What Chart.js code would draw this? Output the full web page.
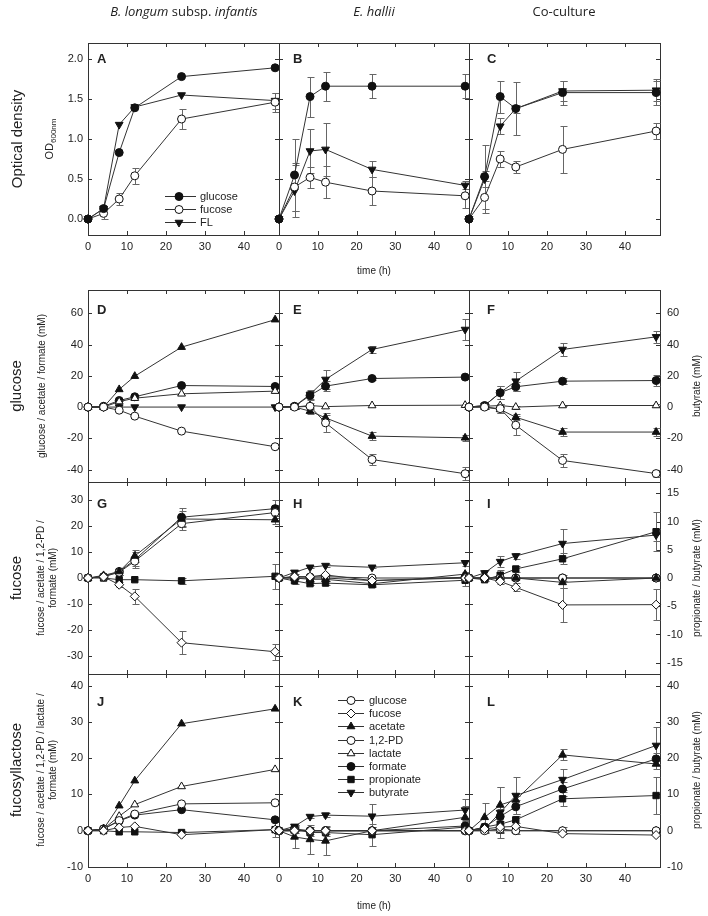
<!DOCTYPE html>
<html>
<head>
<meta charset="utf-8">
<script src="https://cdn.jsdelivr.net/npm/chart.js@4.4.0/dist/chart.umd.min.js"></script>
<style>
body { margin: 0; background: #fff; }
#page { position: relative; width: 708px; height: 916px; overflow: hidden; font-family: "Liberation Sans", Arial, sans-serif; color: #222; }
#page canvas { position: absolute; left: 0; top: 0; }
.t { position: absolute; white-space: nowrap; transform: translate(-50%, -50%); line-height: 1; }
.r { transform: translate(-50%, -50%) rotate(-90deg); }
.hd { font-family: "Open Sans", sans-serif; font-size: 13px; }
.big { font-size: 15px; }
.sm { font-size: 10px; }
.od { font-size: 11px; }
.lt { position: absolute; font-weight: bold; font-size: 13px; transform: translate(0, -50%); line-height: 1; }
sub { font-size: 8px; }
</style>
</head>
<body>
<div id="page"></div>
<script>
const hours = [0, 4, 8, 12, 24, 48];
const timeTicks = [0, 10, 20, 30, 40];
const odTicks = [0, 0.5, 1, 1.5, 2];
const glcTicks = [-40, -20, 0, 20, 40, 60];
const fucTicks = [-30, -20, -10, 0, 10, 20, 30];
const fucTicksRight = [-15, -10, -5, 0, 5, 10, 15];
const flTicks = [-10, 0, 10, 20, 30, 40];

// optical density
const odInfGlc = [0, 0.13, 0.83, 1.39, 1.78, 1.89];
const odInfFuc = [0, 0.07, 0.25, 0.54, 1.25, 1.46];
const odInfFucErr = [0, 0.07, 0.07, 0.1, 0.12, 0.12];
const odInfFL = [0, 0.13, 1.18, 1.40, 1.55, 1.48];
const odInfFLErr = [0, 0, 0, 0, 0, 0.1];
const odHalGlc = [0, 0.55, 1.53, 1.66, 1.66, 1.66];
const odHalGlcErr = [0, 0.45, 0.25, 0.18, 0.15, 0.15];
const odHalFuc = [0, 0.40, 0.52, 0.46, 0.35, 0.29];
const odHalFucErr = [0, 0.3, 0.13, 0.2, 0.18, 0.15];
const odHalFL = [0, 0.35, 0.85, 0.87, 0.62, 0.42];
const odHalFLErr = [0, 0.32, 0.27, 0.33, 0.1, 0.05];
const odCoGlc = [0, 0.53, 1.53, 1.38, 1.58, 1.58];
const odCoGlcErr = [0, 0.4, 0.2, 0.33, 0.15, 0.15];
const odCoFuc = [0, 0.27, 0.75, 0.65, 0.87, 1.10];
const odCoFucErr = [0, 0.2, 0.1, 0.07, 0.29, 0.1];
const odCoFL = [0, 0.50, 1.16, 1.38, 1.60, 1.61];
const odCoFLErr = [0, 0.1, 0.1, 0.05, 0.12, 0.14];

// glucose medium (mM)
const dGlucose = [0, 0, -2, -5.8, -15.4, -25.4];
const dAcetate = [0, 0, 11.3, 19.8, 38.4, 56];
const dLactate = [0, 0, 3.5, 5.7, 8.5, 10.2];
const dFormate = [0, 0.5, 4.2, 6.6, 13.8, 13.2];
const dButyrate = [0, 0, 0, 0, 0, 0];
const eGlucose = [0, 0, 0.5, -10.1, -33.6, -42.7];
const eGlucoseErr = [0, 1, 2, 6, 3.5, 4];
const eAcetate = [0, 0, -2.6, -6.9, -18.6, -19.7];
const eAcetateErr = [0, 1, 2, 2, 2.5, 2];
const eLactate = [0, 0, 1, 0.3, 1, 1.2];
const eFormate = [0, 0.5, 7.4, 13.4, 18.3, 19.2];
const eFormateErr = [0, 2, 3, 3, 1, 1];
const eButyrate = [0, 0.5, 8.1, 17.7, 36.9, 49.7];
const eButyrateErr = [0, 2, 3, 6, 2.5, 7];
const fGlucose = [0, 0, -1, -11.6, -34.2, -42.6];
const fGlucoseErr = [0, 1, 3, 6, 4, 2];
const fAcetate = [0, 0, -1.5, -6.5, -16, -16];
const fAcetateErr = [0, 1, 2, 2, 2.5, 2.5];
const fLactate = [0, 0.5, 1, 0, 1, 1];
const fLactateErr = [0, 1, 1, 1, 0.5, 1];
const fFormate = [0, 1, 9.2, 13, 16.6, 17];
const fFormateErr = [0, 1, 4, 3, 2, 3.5];
const fButyrate = [0, 1, 9.2, 16.6, 36.9, 45];
const fButyrateErr = [0, 1, 4, 6, 4, 4];

// fucose medium (mM)
const gFucose = [0, 0.5, -2.6, -7.1, -25, -28.5];
const gFucoseErr = [0, 0.5, 1, 3, 4.5, 3];
const gAcetate = [0, 1, 2.5, 8.5, 22.8, 22.5];
const gAcetateErr = [0, 0.5, 1.5, 2.5, 3, 1.5];
const gPd = [0, 0.5, 2.2, 6.5, 21, 25.3];
const gPdErr = [0, 0.5, 1, 2, 2.5, 3];
const gFormate = [0, 0.5, 2.5, 7, 23.5, 26.8];
const gFormateErr = [0, 1, 1.5, 3, 3.5, 3.5];
const gPropionate = [0, 0, -0.3, -0.3, -0.5, 0.3];
const gPropionateErr = [0, 0, 0, 0, 0.5, 2.2];
const hFucose = [0, 0.5, 0.5, 1.2, -1, 0];
const hAcetate = [0, 0, -0.5, -0.5, -2.2, 1.5];
const hAcetateErr = [0, 0.5, 0.5, 0.5, 1, 1];
const hPd = [0, 0.5, 0.4, 0.5, 0, 0];
const hFormate = [0, 0, 0, 0, -1, 0.3];
const hPropionate = [0, -0.5, -1, -0.9, -1.2, -0.4];
const hPropionateErr = [0, 0.6, 0.3, 0.3, 0.4, 1];
const hButyrate = [0, 1, 1.9, 2.2, 1.9, 2.7];
const hButyrateErr = [0, 0.3, 0.2, 0.2, 0.2, 0.5];
const iFucose = [0, 0, -1.3, -3.6, -10.4, -10.3];
const iFucoseErr = [0, 0.5, 1, 1.5, 6.5, 6];
const iAcetate = [0, 0, 0, 0, -1.7, 0];
const iAcetateErr = [0, 0, 0, 0, 2, 0];
const iPd = [0, 0, 0, 0, 0, 0];
const iPdErr = [0, 0, 0.5, 0.5, 1, 1];
const iFormate = [0, 0, 0, 0, 0, 0];
const iPropionate = [0, -0.3, 0.5, 1.6, 3.4, 8.2];
const iPropionateErr = [0, 0.3, 1, 0.5, 1, 3.5];
const iButyrate = [0, 0.9, 2.9, 3.9, 6.1, 7.6];
const iButyrateErr = [0, 0.5, 1, 0.5, 2.5, 1];

// fucosyllactose medium (mM)
const jFucose = [0, 0, 0.9, 1.2, -1.1, 0.3];
const jAcetate = [0, 0.5, 6.9, 13.8, 29.5, 33.6];
const jPd = [0, 0.5, 2.8, 4.6, 7.4, 7.7];
const jLactate = [0, 0.5, 4, 7.2, 12.2, 16.9];
const jFormate = [0, 0.5, 2.7, 4.3, 5.8, 3.0];
const jPropionate = [0, 0, -0.3, -0.3, -0.5, 0.3];
const jPropionateErr = [0, 0, 0, 0, 0.5, 2];
const kFucose = [0, 0, 0, 0, 0, 0];
const kAcetate = [0, -1.7, -2.4, -2.8, 0, 3.7];
const kAcetateErr = [0, 3, 4, 4, 1, 3];
const kPd = [0, 0, 0, 0, 0, 0];
const kLactate = [0, 0, 0, 0, 0, 0];
const kFormate = [0, 0.5, 0, 0, 0, 1.3];
const kFormateErr = [0, 0.5, 1, 1, 1, 1];
const kPropionate = [0, 0.5, -0.5, -0.5, -1.1, 1];
const kPropionateErr = [0, 1, 1, 1, 3, 2];
const kButyrate = [0, 1.2, 3.9, 4.3, 4.0, 5.7];
const kButyrateErr = [0, 0.5, 0.5, 0.5, 3.5, 3];
const lFucose = [0, 0.5, 1, 1.2, -0.8, -1.2];
const lAcetate = [0, 3.7, 7.1, 8.5, 20.9, 18.4];
const lAcetateErr = [0, 4, 5, 1, 1.5, 1.5];
const lPd = [0, 0, 0.5, 0, 0, 0];
const lPdErr = [0, 0, 1, 1, 1, 0.5];
const lLactate = [0, 0, 0, 0, 0, 0];
const lFormate = [0, 1, 3.9, 6.6, 11.5, 19.8];
const lFormateErr = [0, 0.5, 2, 2, 2, 1.5];
const lPropionate = [0, 1, 1.8, 3, 8.8, 9.7];
const lPropionateErr = [0, 0.5, 1, 1, 2, 5];
const lButyrate = [0, 0.5, 5, 9.7, 14.1, 23.5];
const lButyrateErr = [0, 1, 7, 5, 3, 5];

const odLegend = ['odGlucose', 'odFucose', 'FL'];
const odLegendText = ['glucose', 'fucose', 'FL'];
const metLegend = ['glucose', 'fucose', 'acetate', 'pd', 'lactate', 'formate', 'propionate', 'butyrate'];
const metLegendText = ['glucose', 'fucose', 'acetate', '1,2-PD', 'lactate', 'formate', 'propionate', 'butyrate'];

const STYLE = {
    odGlucose: { shape: 'circle', fill: '#111', r: 4 },
    odFucose: { shape: 'circle', fill: '#fff', r: 4 },
    FL: { shape: 'triangle', rot: 180, fill: '#111', r: 4.5 },
    glucose: { shape: 'circle', fill: '#fff', r: 4 },
    fucose: { shape: 'rectRot', fill: '#fff', r: 4.5 },
    acetate: { shape: 'triangle', fill: '#111', r: 4.5 },
    pd: { shape: 'circle', fill: '#fff', r: 4 },
    lactate: { shape: 'triangle', fill: '#fff', r: 4.5 },
    formate: { shape: 'circle', fill: '#111', r: 4 },
    propionate: { shape: 'rect', fill: '#111', r: 4.5 },
    butyrate: { shape: 'triangle', rot: 180, fill: '#111', r: 4.5 }
};
const RIGHT_KINDS = ['propionate', 'butyrate'];

// plot frame geometry
const COLS = [88, 279, 469, 660];
const ROWS = [[43, 235], [290, 482], [482, 674], [674, 867]];
const YW = 40, XH = 30;
const FONT = "'Liberation Sans', Arial, sans-serif";

const ROW_AXES = [
    { min: -0.2, max: 2.2, ticks: odTicks, min2: -0.2, max2: 2.2, ticks2: odTicks, fmt: v => v.toFixed(1) },
    { min: -48, max: 75, ticks: glcTicks, min2: -48, max2: 75, ticks2: glcTicks },
    { min: -37.1, max: 37.1, ticks: fucTicks, min2: -17, max2: 17, ticks2: fucTicksRight },
    { min: -10, max: 43.2, ticks: flTicks, min2: -10, max2: 43.2, ticks2: flTicks }
];

const panels = [
    { row: 0, col: 0, legend: { kinds: odLegend, text: odLegendText, x0: 165, x1: 196, xm: 179, xt: 200, y0: 196, dy: 12.8 }, series: [
        { kind: 'odGlucose', values: odInfGlc },
        { kind: 'odFucose', values: odInfFuc, err: odInfFucErr },
        { kind: 'FL', values: odInfFL, err: odInfFLErr }] },
    { row: 0, col: 1, series: [
        { kind: 'odGlucose', values: odHalGlc, err: odHalGlcErr },
        { kind: 'odFucose', values: odHalFuc, err: odHalFucErr },
        { kind: 'FL', values: odHalFL, err: odHalFLErr }] },
    { row: 0, col: 2, series: [
        { kind: 'odGlucose', values: odCoGlc, err: odCoGlcErr },
        { kind: 'odFucose', values: odCoFuc, err: odCoFucErr },
        { kind: 'FL', values: odCoFL, err: odCoFLErr }] },
    { row: 1, col: 0, series: [
        { kind: 'glucose', values: dGlucose },
        { kind: 'acetate', values: dAcetate },
        { kind: 'lactate', values: dLactate },
        { kind: 'formate', values: dFormate },
        { kind: 'butyrate', values: dButyrate }] },
    { row: 1, col: 1, series: [
        { kind: 'glucose', values: eGlucose, err: eGlucoseErr },
        { kind: 'acetate', values: eAcetate, err: eAcetateErr },
        { kind: 'lactate', values: eLactate },
        { kind: 'formate', values: eFormate, err: eFormateErr },
        { kind: 'butyrate', values: eButyrate, err: eButyrateErr }] },
    { row: 1, col: 2, series: [
        { kind: 'glucose', values: fGlucose, err: fGlucoseErr },
        { kind: 'acetate', values: fAcetate, err: fAcetateErr },
        { kind: 'lactate', values: fLactate, err: fLactateErr },
        { kind: 'formate', values: fFormate, err: fFormateErr },
        { kind: 'butyrate', values: fButyrate, err: fButyrateErr }] },
    { row: 2, col: 0, series: [
        { kind: 'fucose', values: gFucose, err: gFucoseErr },
        { kind: 'acetate', values: gAcetate, err: gAcetateErr },
        { kind: 'pd', values: gPd, err: gPdErr },
        { kind: 'formate', values: gFormate, err: gFormateErr },
        { kind: 'propionate', values: gPropionate, err: gPropionateErr }] },
    { row: 2, col: 1, series: [
        { kind: 'fucose', values: hFucose },
        { kind: 'acetate', values: hAcetate, err: hAcetateErr },
        { kind: 'pd', values: hPd },
        { kind: 'formate', values: hFormate },
        { kind: 'propionate', values: hPropionate, err: hPropionateErr },
        { kind: 'butyrate', values: hButyrate, err: hButyrateErr }] },
    { row: 2, col: 2, series: [
        { kind: 'fucose', values: iFucose, err: iFucoseErr },
        { kind: 'acetate', values: iAcetate, err: iAcetateErr },
        { kind: 'pd', values: iPd, err: iPdErr },
        { kind: 'formate', values: iFormate },
        { kind: 'propionate', values: iPropionate, err: iPropionateErr },
        { kind: 'butyrate', values: iButyrate, err: iButyrateErr }] },
    { row: 3, col: 0, series: [
        { kind: 'fucose', values: jFucose },
        { kind: 'acetate', values: jAcetate },
        { kind: 'pd', values: jPd },
        { kind: 'lactate', values: jLactate },
        { kind: 'formate', values: jFormate },
        { kind: 'propionate', values: jPropionate, err: jPropionateErr }] },
    { row: 3, col: 1, legend: { kinds: metLegend, text: metLegendText, x0: 338, x1: 364, xm: 351, xt: 369, y0: 700, dy: 13.2 }, series: [
        { kind: 'fucose', values: kFucose },
        { kind: 'acetate', values: kAcetate, err: kAcetateErr },
        { kind: 'pd', values: kPd },
        { kind: 'lactate', values: kLactate },
        { kind: 'formate', values: kFormate, err: kFormateErr },
        { kind: 'propionate', values: kPropionate, err: kPropionateErr },
        { kind: 'butyrate', values: kButyrate, err: kButyrateErr }] },
    { row: 3, col: 2, series: [
        { kind: 'fucose', values: lFucose },
        { kind: 'acetate', values: lAcetate, err: lAcetateErr },
        { kind: 'pd', values: lPd, err: lPdErr },
        { kind: 'lactate', values: lLactate },
        { kind: 'formate', values: lFormate, err: lFormateErr },
        { kind: 'propionate', values: lPropionate, err: lPropionateErr },
        { kind: 'butyrate', values: lButyrate, err: lButyrateErr }] }
];

const page = document.getElementById('page');

function markerPoint(ctx, kind, x, y) {
    const st = STYLE[kind];
    ctx.fillStyle = st.fill;
    ctx.strokeStyle = '#111';
    ctx.lineWidth = 1;
    Chart.helpers.drawPoint(ctx, { pointStyle: st.shape, rotation: st.rot || 0, radius: st.r, borderWidth: 1 }, x, y);
}

function buildPanel(p) {
    const { row, col } = p;
    const ax = ROW_AXES[row];
    const rightLabels = col === 2 && row > 0;
    const y2W = rightLabels ? 40 : 0;
    const cv = document.createElement('canvas');
    cv.width = 708;
    cv.height = 916;
    page.appendChild(cv);

    const datasets = p.series.map(s => {
        const st = STYLE[s.kind];
        return {
            label: s.kind,
            err: s.err || null,
            data: hours.map((h, i) => ({ x: h, y: s.values[i] })),
            yAxisID: RIGHT_KINDS.includes(s.kind) ? 'y2' : 'y',
            borderColor: '#333',
            borderWidth: 1,
            tension: 0,
            clip: false,
            pointStyle: st.shape,
            pointRotation: st.rot || 0,
            pointRadius: st.r,
            pointBackgroundColor: st.fill,
            pointBorderColor: '#111',
            pointBorderWidth: 1
        };
    });

    const frame = {
        id: 'frame',
        beforeDatasetsDraw(chart) {
            const { ctx, chartArea: a, scales } = chart;
            ctx.save();
            ctx.strokeStyle = '#333';
            ctx.lineWidth = 1;
            ctx.strokeRect(a.left + 0.5, a.top + 0.5, a.right - a.left, a.bottom - a.top);
            ctx.beginPath();
            scales.x.ticks.forEach(t => {
                const x = Math.round(scales.x.getPixelForValue(t.value)) + 0.5;
                ctx.moveTo(x, a.top); ctx.lineTo(x, a.top + 4);
                ctx.moveTo(x, a.bottom); ctx.lineTo(x, a.bottom - 4);
            });
            scales.y.ticks.forEach(t => {
                const y = Math.round(scales.y.getPixelForValue(t.value)) + 0.5;
                ctx.moveTo(a.left, y); ctx.lineTo(a.left + 4, y);
            });
            const rs = rightLabels ? scales.y2 : scales.y;
            rs.ticks.forEach(t => {
                const y = Math.round(rs.getPixelForValue(t.value)) + 0.5;
                ctx.moveTo(a.right, y); ctx.lineTo(a.right - 4, y);
            });
            ctx.stroke();

            // error bars
            ctx.strokeStyle = '#666';
            chart.data.datasets.forEach(ds => {
                if (!ds.err) return;
                const ys = scales[ds.yAxisID];
                ctx.beginPath();
                ds.data.forEach((pt, i) => {
                    const e = ds.err[i];
                    if (!e) return;
                    const x = Math.round(scales.x.getPixelForValue(pt.x)) + 0.5;
                    const y1 = Math.round(ys.getPixelForValue(pt.y - e)) + 0.5;
                    const y2 = Math.round(ys.getPixelForValue(pt.y + e)) + 0.5;
                    ctx.moveTo(x, y1); ctx.lineTo(x, y2);
                    ctx.moveTo(x - 3, y1); ctx.lineTo(x + 4, y1);
                    ctx.moveTo(x - 3, y2); ctx.lineTo(x + 4, y2);
                });
                ctx.stroke();
            });
            ctx.restore();
        },
        afterDatasetsDraw(chart) {
            const lg = p.legend;
            if (!lg) return;
            const ctx = chart.ctx;
            ctx.save();
            ctx.font = '11px ' + FONT;
            ctx.textBaseline = 'middle';
            lg.kinds.forEach((k, i) => {
                const y = Math.round(lg.y0 + i * lg.dy) + 0.5;
                ctx.strokeStyle = '#333';
                ctx.lineWidth = 1;
                ctx.beginPath();
                ctx.moveTo(lg.x0, y); ctx.lineTo(lg.x1, y);
                ctx.stroke();
                markerPoint(ctx, k, lg.xm, y);
                ctx.fillStyle = '#222';
                ctx.fillText(lg.text[i], lg.xt, y);
            });
            ctx.restore();
        }
    };

    const tickFont = { family: FONT, size: 11 };
    new Chart(cv, {
        type: 'line',
        data: { datasets },
        options: {
            responsive: false,
            animation: false,
            devicePixelRatio: 1,
            layout: {
                padding: {
                    left: COLS[col] - YW,
                    right: 708 - COLS[col + 1] - y2W,
                    top: ROWS[row][0],
                    bottom: 916 - ROWS[row][1] - XH
                }
            },
            plugins: { legend: { display: false }, tooltip: { enabled: false } },
            scales: {
                x: {
                    type: 'linear', min: 0, max: 49,
                    afterBuildTicks: s => { s.ticks = timeTicks.map(v => ({ value: v })); },
                    afterFit: s => { s.height = XH; },
                    ticks: { display: row === 0 || row === 3, padding: 5, font: tickFont, color: '#222', autoSkip: false, maxRotation: 0, callback: v => v },
                    grid: { display: false, drawTicks: false },
                    border: { display: false }
                },
                y: {
                    type: 'linear', position: 'left', min: ax.min, max: ax.max,
                    afterBuildTicks: s => { s.ticks = ax.ticks.map(v => ({ value: v })); },
                    afterFit: s => { s.width = YW; },
                    ticks: { display: col === 0, padding: 5, font: tickFont, color: '#222', autoSkip: false, callback: ax.fmt || (v => v) },
                    grid: { display: false, drawTicks: false },
                    border: { display: false }
                },
                y2: {
                    type: 'linear', position: 'right', min: ax.min2, max: ax.max2,
                    afterBuildTicks: s => { s.ticks = ax.ticks2.map(v => ({ value: v })); },
                    afterFit: s => { s.width = y2W; },
                    ticks: { display: rightLabels, padding: 7, font: tickFont, color: '#222', autoSkip: false, callback: v => v },
                    grid: { display: false, drawTicks: false },
                    border: { display: false }
                }
            }
        },
        plugins: [frame]
    });
}

panels.forEach(buildPanel);

// texts
function addText(html, x, y, cls) {
    const d = document.createElement('div');
    d.className = 't ' + (cls || '');
    d.style.left = x + 'px';
    d.style.top = y + 'px';
    d.innerHTML = html;
    page.appendChild(d);
}
function addLetter(txt, x, y) {
    const d = document.createElement('div');
    d.className = 'lt';
    d.style.left = x + 'px';
    d.style.top = y + 'px';
    d.textContent = txt;
    page.appendChild(d);
}

addText('<i>B. longum</i> subsp. <i>infantis</i>', 184, 11, 'hd');
addText('<i>E. hallii</i>', 374, 11, 'hd');
addText('Co-culture', 564, 11, 'hd');

addText('Optical density', 16, 139, 'r big');
addText('OD<sub>600nm</sub>', 51, 139, 'r od');
addText('glucose', 15, 386, 'r big');
addText('glucose / acetate / formate (mM)', 42, 386, 'r sm');
addText('fucose', 15, 578, 'r big');
addText('fucose / acetate / 1,2-PD /', 41, 578, 'r sm');
addText('formate (mM)', 53, 578, 'r sm');
addText('fucosyllactose', 15, 770, 'r big');
addText('fucose / acetate / 1,2-PD / lactate /', 41, 770, 'r sm');
addText('formate (mM)', 53, 770, 'r sm');

addText('butyrate (mM)', 697, 386, 'r sm');
addText('propionate / butyrate (mM)', 697, 578, 'r sm');
addText('propionate / butyrate (mM)', 697, 770, 'r sm');

addText('time (h)', 374, 271, 'sm');
addText('time (h)', 374, 906, 'sm');

const letterX = [97, 293, 487];
const letterY = [58, 309, 503, 701];
'ABCDEFGHIJKL'.split('').forEach((L, i) => addLetter(L, letterX[i % 3], letterY[Math.floor(i / 3)]));
</script>
</body>
</html>
